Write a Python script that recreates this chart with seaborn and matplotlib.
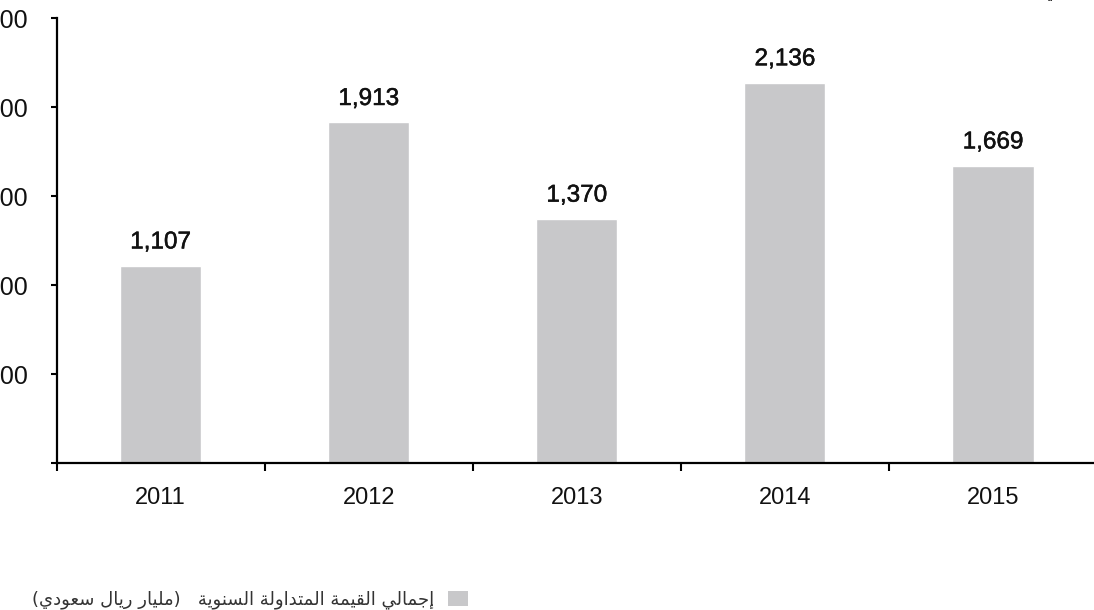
import matplotlib
matplotlib.use('Agg')
import matplotlib.pyplot as plt
import matplotlib.patheffects as pe
import seaborn as sns
import pandas as pd
from matplotlib.patches import Patch

# ---- data ----
years = ['2011', '2012', '2013', '2014', '2015']
values = [1107, 1913, 1370, 2136, 1669]
y_ticks = [0, 500, 1000, 1500, 2000, 2500]
legend_label = 'إجمالي القيمة المتداولة السنوية   (مليار ريال سعودي)'
title_fragment = 'ي'

BAR_COLOR = '#c8c8ca'

# ---- minimal Arabic shaping (presentation forms + visual order) ----
FORMS = {
    '\u0621': ('\uFE80',),
    '\u0622': ('\uFE81', '\uFE82'),
    '\u0623': ('\uFE83', '\uFE84'),
    '\u0625': ('\uFE87', '\uFE88'),
    '\u0627': ('\uFE8D', '\uFE8E'),
    '\u0628': ('\uFE8F', '\uFE90', '\uFE91', '\uFE92'),
    '\u0629': ('\uFE93', '\uFE94'),
    '\u062A': ('\uFE95', '\uFE96', '\uFE97', '\uFE98'),
    '\u062B': ('\uFE99', '\uFE9A', '\uFE9B', '\uFE9C'),
    '\u062C': ('\uFE9D', '\uFE9E', '\uFE9F', '\uFEA0'),
    '\u062D': ('\uFEA1', '\uFEA2', '\uFEA3', '\uFEA4'),
    '\u062E': ('\uFEA5', '\uFEA6', '\uFEA7', '\uFEA8'),
    '\u062F': ('\uFEA9', '\uFEAA'),
    '\u0630': ('\uFEAB', '\uFEAC'),
    '\u0631': ('\uFEAD', '\uFEAE'),
    '\u0632': ('\uFEAF', '\uFEB0'),
    '\u0633': ('\uFEB1', '\uFEB2', '\uFEB3', '\uFEB4'),
    '\u0634': ('\uFEB5', '\uFEB6', '\uFEB7', '\uFEB8'),
    '\u0635': ('\uFEB9', '\uFEBA', '\uFEBB', '\uFEBC'),
    '\u0636': ('\uFEBD', '\uFEBE', '\uFEBF', '\uFEC0'),
    '\u0637': ('\uFEC1', '\uFEC2', '\uFEC3', '\uFEC4'),
    '\u0638': ('\uFEC5', '\uFEC6', '\uFEC7', '\uFEC8'),
    '\u0639': ('\uFEC9', '\uFECA', '\uFECB', '\uFECC'),
    '\u063A': ('\uFECD', '\uFECE', '\uFECF', '\uFED0'),
    '\u0641': ('\uFED1', '\uFED2', '\uFED3', '\uFED4'),
    '\u0642': ('\uFED5', '\uFED6', '\uFED7', '\uFED8'),
    '\u0643': ('\uFED9', '\uFEDA', '\uFEDB', '\uFEDC'),
    '\u0644': ('\uFEDD', '\uFEDE', '\uFEDF', '\uFEE0'),
    '\u0645': ('\uFEE1', '\uFEE2', '\uFEE3', '\uFEE4'),
    '\u0646': ('\uFEE5', '\uFEE6', '\uFEE7', '\uFEE8'),
    '\u0647': ('\uFEE9', '\uFEEA', '\uFEEB', '\uFEEC'),
    '\u0648': ('\uFEED', '\uFEEE'),
    '\u0649': ('\uFEEF', '\uFEF0'),
    '\u064A': ('\uFEF1', '\uFEF2', '\uFEF3', '\uFEF4'),
}
LAM_ALEF = {'\u0622': ('\uFEF5', '\uFEF6'), '\u0623': ('\uFEF7', '\uFEF8'),
            '\u0625': ('\uFEF9', '\uFEFA'), '\u0627': ('\uFEFB', '\uFEFC')}


def shape_arabic(text):
    chars = list(text)
    merged = []
    i = 0
    while i < len(chars):
        c = chars[i]
        if c == '\u0644' and i + 1 < len(chars) and chars[i + 1] in LAM_ALEF:
            merged.append(('LA', chars[i + 1]))
            i += 2
        else:
            merged.append((c, None))
            i += 1

    def joins_next(item):
        c, _ = item
        if c == 'LA':
            return False
        f = FORMS.get(c)
        return f is not None and len(f) == 4

    def joins_prev(item):
        c, _ = item
        if c == 'LA':
            return True
        f = FORMS.get(c)
        return f is not None and len(f) >= 2

    res = []
    for k, item in enumerate(merged):
        c, a = item
        prev = k > 0 and joins_next(merged[k - 1]) and joins_prev(item)
        nxt = k + 1 < len(merged) and joins_next(item) and joins_prev(merged[k + 1])
        if c == 'LA':
            res.append(LAM_ALEF[a][1 if prev else 0])
            continue
        f = FORMS.get(c)
        if f is None:
            res.append(c)
        elif len(f) == 4:
            if prev and nxt:
                res.append(f[3])
            elif nxt:
                res.append(f[2])
            elif prev:
                res.append(f[1])
            else:
                res.append(f[0])
        elif len(f) == 2:
            res.append(f[1] if prev else f[0])
        else:
            res.append(f[0])
    vis = ''.join(reversed(res))
    mirror = {'(': ')', ')': '(', '[': ']', ']': '['}
    return ''.join(mirror.get(ch, ch) for ch in vis)


# ---- style ----
sns.set_style('white')
plt.rcParams['font.family'] = ['Liberation Sans', 'DejaVu Sans']

W, H = 1094, 610
fig = plt.figure(figsize=(W / 100, H / 100), dpi=100)
ax = fig.add_axes([56.5 / W, (H - 463) / H, (1097 - 56.5) / W, (463 - 18) / H])

df = pd.DataFrame({'year': years, 'value': values})
sns.barplot(data=df, x='year', y='value', color=BAR_COLOR, saturation=1,
            width=0.39, ax=ax, legend=False)

ax.set_xlim(-0.5, len(years) - 0.5)
ax.set_ylim(0, 2500)
ax.set_xlabel('')
ax.set_ylabel('')

labels = ax.bar_label(ax.containers[0], labels=[f'{v:,}' for v in values],
                      padding=9, fontsize=17.5, color='#111111')
for t in labels:
    t.set_path_effects([pe.withStroke(linewidth=0.35, foreground='#111111')])

for s in ['top', 'right']:
    ax.spines[s].set_visible(False)
for s in ['left', 'bottom']:
    ax.spines[s].set_color('black')
    ax.spines[s].set_linewidth(1.6)

ax.set_yticks(y_ticks)
ax.set_yticklabels([f'{t:,}' if t else '' for t in y_ticks])
ax.tick_params(axis='y', left=True, direction='out', length=4.5, width=1.5,
               pad=16, labelsize=18, colors='black', labelcolor='#111111')

ax.set_xticks(range(len(years)))
ax.set_xticks([i - 0.5 for i in range(len(years))], minor=True)
ax.tick_params(axis='x', which='major', bottom=True, length=0, pad=17.5,
               labelsize=17, labelcolor='#111111')
ax.tick_params(axis='x', which='minor', bottom=True, direction='out',
               length=6, width=1.5, color='black')

# legend (RTL: text left of swatch)
handle = Patch(facecolor=BAR_COLOR, edgecolor='none')
fig.legend([handle], [shape_arabic(legend_label)], loc='center right',
           bbox_to_anchor=(468 / W, (H - 600) / H), markerfirst=False,
           frameon=False, borderpad=0, borderaxespad=0,
           handlelength=1.1, handleheight=0.95, handletextpad=0.8,
           prop={'family': 'DejaVu Sans', 'size': 13}, labelcolor='#333333')

# clipped title fragment at the top-right edge
fig.text(1058 / W, 1 + 3 / H, shape_arabic(title_fragment), ha='right',
         va='baseline', fontsize=13, family='DejaVu Sans', color='#111111')

fig.savefig('out.png', dpi=100)
